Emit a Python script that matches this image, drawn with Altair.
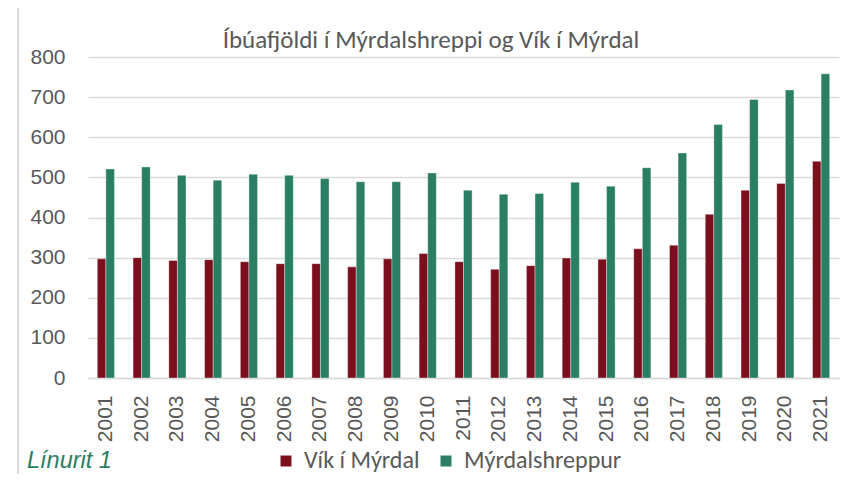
import altair as alt
import pandas as pd

years = [str(y) for y in range(2001, 2022)]
vik = [297, 300, 293, 295, 290, 285, 285, 277, 297, 310, 290, 271, 280, 299, 296, 322, 331, 408, 468, 485, 540]
myrdal = [521, 526, 505, 493, 508, 505, 497, 489, 489, 511, 468, 458, 460, 488, 478, 524, 561, 632, 694, 718, 758]
series = ["Vík í Mýrdal", "Mýrdalshreppur"]
colors = ["#7b0f1e", "#2a7e63"]
y_ticks = [0, 100, 200, 300, 400, 500, 600, 700, 800]
title_text = "Íbúafjöldi í Mýrdalshreppi og Vík í Mýrdal"
caption_text = "Línurit 1"

rows = []
for i, yr in enumerate(years):
    rows.append({"year": yr, "series": series[0], "value": vik[i]})
    rows.append({"year": yr, "series": series[1], "value": myrdal[i]})
df = pd.DataFrame(rows)

W, H = 751, 321
narrow = "Carlito, Liberation Sans Narrow, Open Sans, sans-serif"
arial = "Liberation Sans, Arial, sans-serif"

bars = alt.Chart(df).mark_bar(stroke="white", strokeWidth=0.6, strokeOpacity=0.6).encode(
    x=alt.X("year:N", sort=years, title=None,
            scale=alt.Scale(paddingInner=0.52, paddingOuter=0.26),
            axis=alt.Axis(labelAngle=-90, labelAlign="right", labelBaseline="middle",
                          labelFontSize=21, labelFont=arial, labelColor="#595959",
                          labelPadding=17, ticks=False, domain=True,
                          domainColor="#d9d9d9", domainWidth=1.5, grid=False)),
    xOffset=alt.XOffset("series:N", sort=series, scale=alt.Scale(paddingInner=0, paddingOuter=0)),
    y=alt.Y("value:Q", title=None,
            scale=alt.Scale(domain=[0, 800], nice=False),
            axis=alt.Axis(values=y_ticks, labelFontSize=21, labelFont=arial,
                          labelColor="#595959", labelPadding=23, ticks=False,
                          domain=False, grid=True, gridColor="#d9d9d9", gridWidth=1.5)),
    color=alt.Color("series:N", sort=series,
                    scale=alt.Scale(domain=series, range=colors),
                    legend=alt.Legend(title=None, orient="none", direction="horizontal",
                                      legendX=186, legendY=392, symbolType="square",
                                      symbolSize=121, symbolStrokeWidth=0,
                                      labelFontSize=24, labelFont=narrow,
                                      labelColor="#595959", columnPadding=14,
                                      labelOffset=6)),
)

one = pd.DataFrame({"t": [title_text], "c": [caption_text]})

title = alt.Chart(one).mark_text(fontSize=25, font=narrow, color="#595959",
                                 align="center", baseline="middle").encode(
    text="t:N", x=alt.value(343), y=alt.value(-17))

caption = alt.Chart(one).mark_text(fontSize=23.5, font=arial, fontStyle="italic",
                                   color="#2a7e63", align="left", baseline="middle").encode(
    text="c:N", x=alt.value(-61), y=alt.value(404))

frame_left = alt.Chart(one).mark_rule(color="#d9d9d9", strokeWidth=2).encode(
    x=alt.value(-70), y=alt.value(-52), y2=alt.value(440))
frame_top = alt.Chart(one).mark_rule(color="#d9d9d9", strokeWidth=2).encode(
    x=alt.value(-70), x2=alt.value(770), y=alt.value(-52))

chart = alt.layer(frame_left, frame_top, bars, title, caption).properties(
    width=W, height=H,
    autosize=alt.AutoSizeParams(type="none"),
    padding={"left": 80, "top": 49, "right": 7, "bottom": 96},
).configure_view(stroke=None)

chart.save("out.html", embed_options={"renderer": "svg", "actions": False})
